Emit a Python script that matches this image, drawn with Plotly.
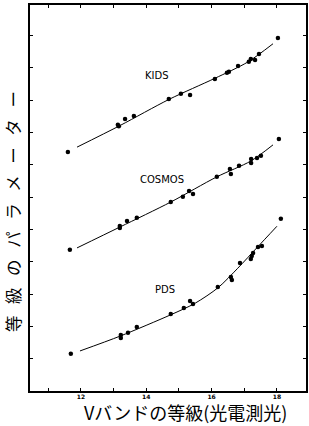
import plotly.graph_objects as go

# ---- data ----
kids_x = [11.60, 13.13, 13.16, 13.35, 13.62, 14.69, 15.06, 15.34, 16.10, 16.47, 16.53,
          16.81, 17.14, 17.20, 17.33, 17.45, 18.03]
kids_y = [7.40, 8.24, 8.20, 8.42, 8.51, 9.04, 9.20, 9.16, 9.66, 9.85, 9.88,
          10.06, 10.19, 10.28, 10.25, 10.43, 10.93]
kids_curve_x = [11.88, 13.2, 14.7, 16.1, 17.1, 17.88]
kids_curve_y = [7.55, 8.22, 9.03, 9.68, 10.18, 10.75]

cosmos_x = [11.66, 13.19, 13.19, 13.41, 13.71, 14.75, 15.12, 15.31, 15.43, 16.16, 16.56,
            16.59, 16.84, 17.21, 17.21, 17.39, 17.51, 18.06]
cosmos_y = [4.37, 5.11, 5.05, 5.26, 5.36, 5.85, 6.01, 6.19, 6.10, 6.63, 6.87,
            6.72, 6.97, 7.06, 7.18, 7.21, 7.28, 7.80]
cosmos_curve_x = [11.88, 13.2, 14.75, 16.16, 17.2, 17.88]
cosmos_curve_y = [4.43, 5.08, 5.85, 6.63, 7.12, 7.62]

pds_x = [11.69, 13.22, 13.22, 13.44, 13.71, 14.75, 15.15, 15.34, 15.43, 16.19, 16.59,
         16.62, 16.87, 17.20, 17.23, 17.27, 17.42, 17.54, 18.12]
pds_y = [1.15, 1.73, 1.64, 1.80, 1.98, 2.38, 2.57, 2.79, 2.69, 3.22, 3.53,
         3.44, 3.96, 4.09, 4.18, 4.27, 4.46, 4.49, 5.33]
pds_curve_x = [11.97, 13.2, 14.75, 15.5, 16.2, 16.8, 17.4, 18.0]
pds_curve_y = [1.24, 1.70, 2.36, 2.72, 3.20, 3.80, 4.45, 5.10]

series_names = ["KIDS", "COSMOS", "PDS"]
label_x = [14.33, 14.48, 14.57]
label_y = [9.78, 6.56, 3.13]

x_tickvals = [11, 12, 13, 14, 15, 16, 17, 18]
x_ticktext = ["", "12", "", "14", "", "16", "", "18"]
y_tickvals = list(range(0, 13))

x_title = "Vバンドの等級(光電測光)"
y_title = "\u2002\u2009".join("等級のパラメーター")

W, H = 309, 426
ML, MR, MT, MB = 30, 3, 5, 35
pw, ph = W - ML - MR, H - MT - MB

fig = go.Figure()
for cx, cy, px, py in [(kids_curve_x, kids_curve_y, kids_x, kids_y),
                       (cosmos_curve_x, cosmos_curve_y, cosmos_x, cosmos_y),
                       (pds_curve_x, pds_curve_y, pds_x, pds_y)]:
    fig.add_trace(go.Scatter(x=cx, y=cy, mode="lines",
                             line=dict(color="black", width=1, shape="spline", smoothing=0.8),
                             showlegend=False, hoverinfo="skip"))
    fig.add_trace(go.Scatter(x=px, y=py, mode="markers",
                             marker=dict(color="black", size=4.5),
                             showlegend=False))

for name, lx, ly in zip(series_names, label_x, label_y):
    fig.add_annotation(x=lx, y=ly, text=name, showarrow=False,
                       font=dict(family="DejaVu Sans", size=10, color="black"))

# axis titles (positions given in page pixels, converted to paper coordinates)
fig.add_annotation(x=(185 - ML) / pw, y=(H - MB - 412) / ph, xref="paper", yref="paper",
                   xanchor="center", yanchor="middle", text=x_title, showarrow=False,
                   font=dict(family="Noto Sans CJK JP", size=18, color="black"))
fig.add_annotation(x=(13 - ML) / pw, y=(H - MB - 212) / ph, xref="paper", yref="paper",
                   xanchor="center", yanchor="middle", text=y_title, showarrow=False,
                   textangle=-90,
                   font=dict(family="Noto Sans CJK JP", size=16.5, color="black"))

fig.update_layout(
    width=W, height=H,
    margin=dict(l=ML, r=MR, t=MT, b=MB, autoexpand=False),
    paper_bgcolor="white", plot_bgcolor="white",
    font=dict(family="Noto Sans CJK JP", color="black"),
)
fig.update_xaxes(
    range=[10.44, 18.89], tickvals=x_tickvals, ticktext=x_ticktext,
    ticks="inside", ticklen=3, tickcolor="black", mirror="ticks",
    showline=True, linecolor="black", linewidth=1.5, showgrid=False, zeroline=False,
    tickfont=dict(family="DejaVu Sans", size=6, weight="bold", color="black"),
    ticklabelstandoff=-1,
    automargin=False,
)
fig.update_yaxes(
    range=[0, 11.95], tickvals=y_tickvals, showticklabels=False,
    ticks="inside", ticklen=3, tickcolor="black", mirror="ticks",
    showline=True, linecolor="black", linewidth=1.5, showgrid=False, zeroline=False,
    automargin=False,
)

fig.write_html("out.html", config={"displayModeBar": False},
               post_script="document.body.style.margin='0px';document.body.style.overflow='hidden';")
